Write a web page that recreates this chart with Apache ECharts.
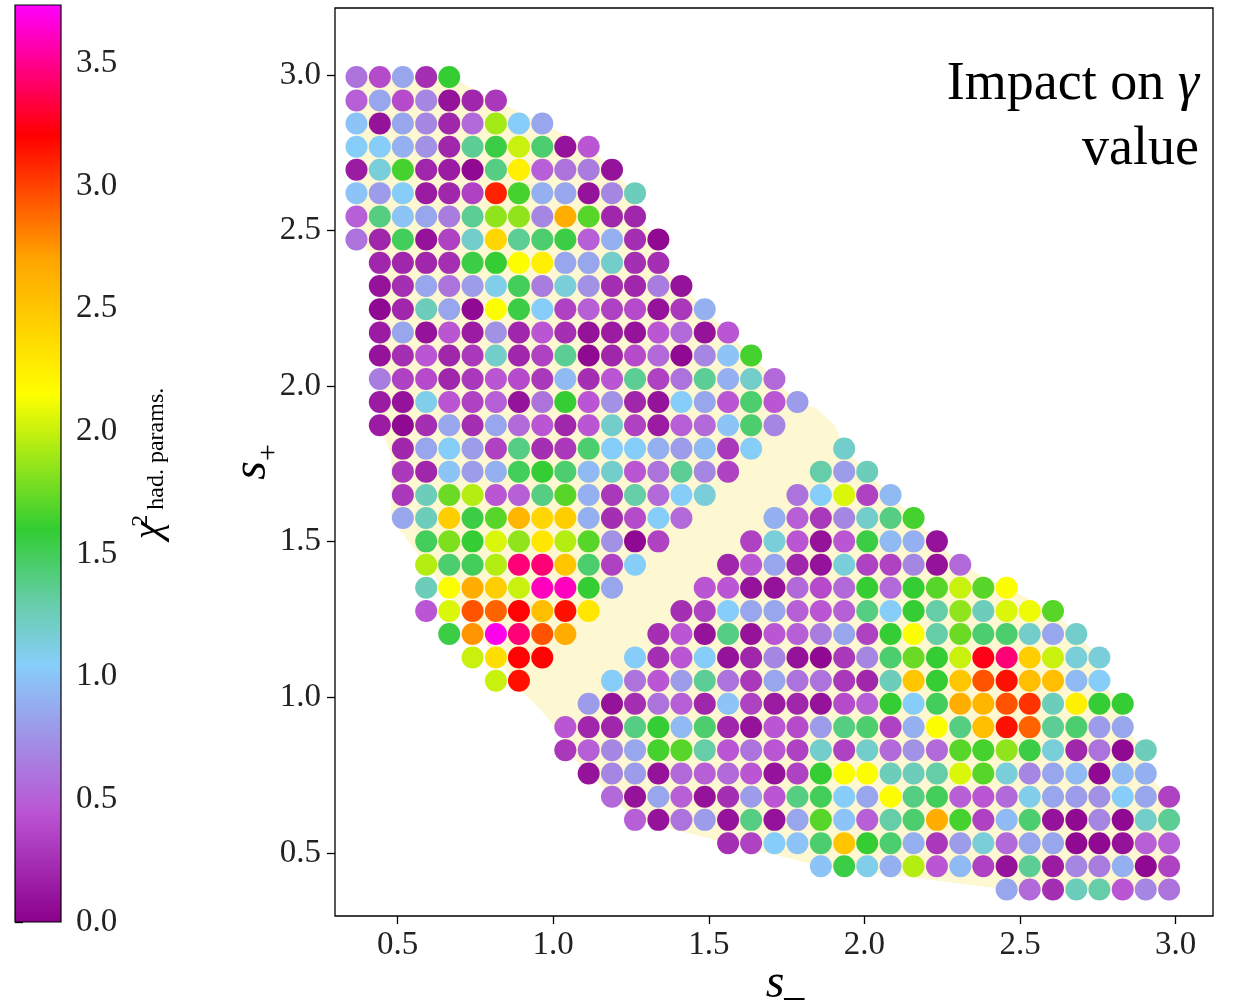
<!DOCTYPE html>
<html><head><meta charset="utf-8">
<script src="https://cdn.jsdelivr.net/npm/echarts@6/dist/echarts.min.js"></script>
<style>html,body{margin:0;padding:0;background:#fff}#c{width:1241px;height:1008px}</style>
</head><body><div id="c"></div>
<script>
// bin centres of the Dalitz variables
const sMinusBins = [0.368,0.443,0.517,0.592,0.666,0.741,0.816,0.890,0.965,1.039,1.114,1.189,1.263,1.338,1.412,1.487,1.562,1.636,1.711,1.785,1.860,1.935,2.009,2.084,2.158,2.233,2.308,2.382,2.457,2.531,2.606,2.681,2.755,2.830,2.904,2.979];
const sPlusBins  = [0.382,0.457,0.531,0.606,0.680,0.755,0.830,0.904,0.979,1.053,1.128,1.203,1.277,1.352,1.426,1.501,1.576,1.650,1.725,1.799,1.874,1.949,2.023,2.098,2.172,2.247,2.322,2.396,2.471,2.545,2.620,2.695,2.769,2.844,2.918,2.993];
const tickValues = [0.5, 1.0, 1.5, 2.0, 2.5, 3.0];
const cbarTicks = [0, 0.5, 1.0, 1.5, 2.0, 2.5, 3.0, 3.5];
const chi2Max = 3.737;

// upper-left lobe: rows from top (row 0 -> highest s+), first column index per row
const c1FirstRow = 0;
const c1Start = [0,0,0,0,0,0,0,0,1,1,1,1,1,1,1,1,2,2,2,2,3,3,3,3,4,5,6];
const c1Vals = [
 [0.6,0.4,0.85,0.25,1.6],
 [0.5,0.85,0.4,0.7,0.1,0.2,0.3],
 [1.0,0.1,0.85,0.7,0.2,0.55,1.9,1.05,0.85],
 [1.05,1.05,0.9,0.75,0.2,1.35,1.55,2.0,1.45,0.1,0.45],
 [0.15,1.15,1.65,0.2,0.15,0.05,1.4,2.25,0.5,0.6,0.65,0.1],
 [1.0,0.8,1.05,0.15,0.2,0.35,3.1,1.65,0.9,0.85,0.1,0.7,1.25],
 [0.5,1.4,1.0,0.85,0.65,1.35,1.85,1.85,0.7,2.65,1.7,0.2,0.2],
 [0.6,0.2,1.5,0.1,0.35,1.2,2.4,1.35,1.45,1.55,0.5,0.9,0.25,0.05],
 [0.2,0.2,0.2,0.25,1.55,1.6,2.15,2.25,0.85,0.85,1.2,0.25,0.25],
 [0.1,0.25,0.85,0.6,0.8,1.1,1.5,0.65,1.15,0.75,0.25,0.2,0.65,0.1],
 [0.05,0.2,1.25,0.85,0.05,2.15,1.55,1.05,0.35,0.5,0.35,0.4,0.1,0.3,0.9],
 [0.15,0.85,0.1,0.45,0.15,0.75,0.2,0.45,0.25,0.1,0.15,0.1,0.45,0.55,0.1,0.45],
 [0.1,0.25,0.45,0.2,0.3,1.2,0.2,0.35,1.35,0.05,0.2,0.4,0.55,0.05,0.7,1.0,1.65],
 [0.65,0.35,0.4,0.2,0.3,0.45,0.4,0.3,0.95,0.25,0.45,1.35,0.35,0.6,1.35,0.9,1.2,0.55],
 [0.15,0.1,1.1,0.45,0.35,0.5,0.1,0.6,1.6,0.45,0.75,0.2,0.1,1.05,0.85,0.45,1.45,0.45,0.8],
 [0.15,0.05,0.25,0.85,0.25,0.85,0.55,0.45,0.2,0.45,1.2,0.35,0.15,0.5,0.55,1.0,1.45,0.7],
 [0.2,0.85,1.05,0.8,0.35,1.4,0.25,0.3,1.45,1.05,1.05,0.9,0.8,0.95,0.3,1.05],
 [0.3,0.2,1.0,0.8,0.9,1.5,1.6,1.45,0.95,1.2,0.45,0.6,1.35,0.7,0.35],
 [0.3,1.25,1.75,1.95,0.45,0.5,1.4,1.7,0.9,0.3,1.3,0.55,1.05,1.15],
 [0.85,1.25,2.45,1.55,1.7,2.6,2.4,2.45,0.9,0.25,0.4,1.05,0.55],
 [1.5,1.8,1.6,2.05,1.85,2.3,1.95,1.7,0.75,0.05,0.35],
 [1.95,1.45,1.5,1.95,3.45,3.45,2.5,1.45,0.35,1.05],
 [1.25,2.15,2.65,2.45,2.0,3.6,3.6,1.6,0.85],
 [0.45,2.05,2.95,2.9,3.2,2.55,3.15,2.3],
 [1.55,2.75,3.7,3.45,2.95,2.65],
 [2.0,2.35,3.2,3.2],
 [2.0,3.15]
];

// lower-right lobe
const c2FirstRow = 16;
const c2Start = [21,20,19,18,17,16,15,14,13,12,11,10,9,9,10,11,12,16,20,28];
const c2Vals = [
 [1.2],
 [1.3,0.8,1.25],
 [0.6,1.05,2.05,0.35,0.95],
 [0.9,0.5,0.3,0.7,1.2,1.4,1.65],
 [0.35,1.15,0.45,0.1,0.45,1.55,0.95,0.9,0.1],
 [0.2,0.45,0.85,0.2,0.1,1.15,0.35,0.35,0.7,0.1,0.55],
 [0.45,0.45,0.1,0.1,0.55,0.4,0.55,1.6,0.55,1.6,1.7,2.0,1.7,2.15],
 [0.25,0.35,1.05,0.85,0.85,0.5,0.45,0.5,1.4,1.05,1.6,1.3,1.85,1.25,2.05,2.1,1.7],
 [0.25,0.45,0.1,1.4,0.1,0.45,0.5,0.65,0.85,0.35,1.6,2.15,1.3,1.75,1.45,1.45,1.2,0.85,1.2],
 [1.05,0.25,0.45,1.05,0.1,0.2,0.7,0.1,0.05,0.3,0.7,1.45,1.75,1.6,2.0,3.25,3.45,2.45,2.0,1.15,1.15],
 [1.05,0.6,0.45,0.8,1.35,0.6,0.3,0.85,0.6,0.6,0.3,0.2,1.25,2.5,1.6,2.5,2.95,3.15,2.55,2.55,0.95,1.05],
 [0.8,0.1,0.25,0.6,0.5,0.2,1.0,0.35,0.15,0.2,0.1,0.4,0.5,1.6,1.05,1.5,2.65,2.6,2.95,3.05,1.25,2.25,1.6,1.6],
 [0.45,0.2,0.2,1.4,1.6,0.95,1.45,0.2,0.1,0.45,0.4,0.8,1.4,1.45,0.35,0.9,2.15,1.4,2.55,3.15,2.9,1.35,1.45,0.8,0.85],
 [0.3,0.5,0.7,0.85,1.65,1.7,1.3,0.45,0.6,0.45,0.35,1.2,0.35,1.2,0.55,0.75,0.55,1.7,1.65,1.85,1.55,1.15,0.2,0.6,0.05,1.25],
 [0.1,0.7,0.8,0.1,0.55,0.5,0.55,0.45,0.1,0.35,1.6,2.15,2.15,1.25,1.25,1.3,2.05,1.7,1.15,0.7,0.85,0.95,0.05,0.95,0.9],
 [0.55,0.1,0.85,0.5,0.1,0.25,0.8,0.45,1.4,1.5,1.05,0.85,2.15,1.4,1.5,0.5,0.45,0.55,1.1,0.85,0.8,0.75,1.05,0.85,0.35],
 [0.5,0.1,0.6,0.8,0.1,1.4,0.1,0.85,1.7,1.0,0.5,1.3,1.45,2.65,1.65,0.35,0.95,1.45,0.1,0.05,0.7,0.05,1.2,1.35],
 [0.25,0.35,1.05,1.0,1.45,2.5,1.6,1.45,0.9,0.3,0.8,1.15,0.55,0.85,0.85,0.05,0.05,0.1,0.5,0.5],
 [1.0,1.55,1.1,0.9,1.95,0.45,0.95,0.35,0.1,1.35,0.15,0.7,0.65,0.9,0.05,0.35],
 [0.85,0.55,0.25,1.25,1.3,0.45,0.7,0.6]
];

// outline of the shaded allowed region (s-, s+)
const regionPts = [
 [0.368,2.993],[0.666,2.993],[0.816,2.918],[0.965,2.844],[1.114,2.769],[1.189,2.695],[1.263,2.620],[1.263,2.545],
 [1.338,2.471],[1.338,2.396],[1.412,2.322],[1.487,2.247],[1.562,2.172],[1.636,2.098],[1.711,2.023],[1.785,1.949],
 [1.845,1.929],[1.905,1.874],[1.935,1.799],[2.009,1.725],[2.084,1.650],[2.158,1.576],[2.233,1.501],[2.308,1.426],
 [2.457,1.352],[2.606,1.277],[2.681,1.203],[2.755,1.128],[2.755,1.053],[2.830,0.979],[2.830,0.904],[2.904,0.830],
 [2.904,0.755],[2.979,0.680],[2.979,0.382],[2.457,0.382],[1.860,0.457],[1.562,0.531],[1.263,0.606],[1.189,0.680],
 [1.114,0.755],[1.039,0.830],[1.020,0.884],[0.960,0.959],[0.900,1.019],[0.480,1.574],[0.480,1.774],[0.443,1.875],
 [0.443,2.396],[0.368,2.471]
];

// colour map (value -> colour)
const cmapStops = [[0,'#8b008b'],[0.45,'#ba55d3'],[1.05,'#87cefa'],[1.3,'#66cdaa'],[1.6,'#32cd32'],[2.15,'#ffff00'],[2.7,'#ffa500'],[3.2,'#ff0000'],[3.737,'#ff00ff']];

function hex2rgb(h){return [parseInt(h.slice(1,3),16),parseInt(h.slice(3,5),16),parseInt(h.slice(5,7),16)];}
function cmap(v){
  for(let i=0;i<cmapStops.length-1;i++){
    const [a,ca]=cmapStops[i],[b,cb]=cmapStops[i+1];
    if(v<=b){const t=(v-a)/(b-a);const A=hex2rgb(ca),B=hex2rgb(cb);
      return 'rgb('+A.map((x,k)=>Math.round(x+(B[k]-x)*t)).join(',')+')';}
  }
  return cmapStops[cmapStops.length-1][1];
}
const nSamp = 150;
const rampColors = [];
for(let i=0;i<=nSamp;i++) rampColors.push(cmap(chi2Max*i/nSamp));
const gradStops = cmapStops.map(([v,c])=>({offset:v/chi2Max,color:c}));

function buildPoints(firstRow, starts, rows){
  const out=[];
  rows.forEach((vals,i)=>{
    const y = sPlusBins[35-(firstRow+i)];
    vals.forEach((v,j)=>out.push([sMinusBins[starts[i]+j], y, v]));
  });
  return out;
}
const points = buildPoints(c1FirstRow,c1Start,c1Vals).concat(buildPoints(c2FirstRow,c2Start,c2Vals));

const serif = 'Liberation Serif';
const tickLabel = {fontFamily:serif,fontSize:33,color:'#222'};

const chart = echarts.init(document.getElementById('c'),null,{renderer:'canvas'});
chart.setOption({
  animation:false,
  backgroundColor:'#fff',
  title:{
    text:'Impact on {g|γ}\nvalue',
    left:1194, top:47,
    textAlign:'right',
    textStyle:{fontFamily:serif,fontSize:54,lineHeight:65,fontWeight:'normal',color:'#000',align:'right',
      rich:{g:{fontFamily:serif,fontSize:54,fontStyle:'italic',color:'#000',lineHeight:65}}}
  },
  grid:[
    {left:335,top:8,width:878,height:908,show:true,borderColor:'#000',borderWidth:1.3,backgroundColor:'transparent',outerBoundsMode:'none',containLabel:false},
    {left:15,top:5,width:46,height:917,show:false,outerBoundsMode:'none',containLabel:false}
  ],
  xAxis:[
    {gridIndex:0,type:'value',min:0.299,max:3.12,
     axisLine:{show:false},splitLine:{show:false},
     axisTick:{show:true,customValues:tickValues,length:8,lineStyle:{color:'#000',width:1.3}},
     axisLabel:{customValues:tickValues,formatter:v=>v.toFixed(1),margin:13,...tickLabel},
     name:'{s|s}{m|_}',nameLocation:'middle',nameGap:44,nameMoveOverlap:false,
     nameTextStyle:{padding:[0,0,0,22],rich:{s:{fontFamily:serif,fontStyle:'italic',fontSize:48,color:'#000'},m:{fontFamily:serif,fontSize:40,color:'#000'}}}},
    {gridIndex:1,type:'value',min:0,max:1,show:false}
  ],
  yAxis:[
    {gridIndex:0,type:'value',min:0.297,max:3.215,
     axisLine:{show:false},splitLine:{show:false},
     axisTick:{show:true,customValues:tickValues,length:8,lineStyle:{color:'#000',width:1.3}},
     axisLabel:{customValues:tickValues,formatter:v=>v.toFixed(1),margin:14,...tickLabel},
     name:'{s|s}{p|+}',nameLocation:'middle',nameGap:51,nameRotate:90,nameMoveOverlap:false,
     nameTextStyle:{rich:{s:{fontFamily:serif,fontStyle:'italic',fontSize:48,color:'#000',padding:[0,0,8,0],verticalAlign:'bottom'},
                          p:{fontFamily:serif,fontSize:30,color:'#000',verticalAlign:'bottom'}}}},
    {gridIndex:1,type:'value',min:0,max:chi2Max,position:'right',
     axisLine:{show:false},splitLine:{show:false},
     axisTick:{show:true,customValues:cbarTicks,length:8,lineStyle:{color:'#000',width:1.3}},
     axisLabel:{customValues:cbarTicks,formatter:v=>v.toFixed(1),margin:15,...tickLabel},
     name:'{c|χ}{sup|2}{sub|had. params.}',nameLocation:'middle',nameGap:68,nameRotate:90,
     nameTextStyle:{rich:{
       c:{fontFamily:serif,fontStyle:'italic',fontSize:40,color:'#000',verticalAlign:'middle'},
       sup:{fontFamily:serif,fontSize:24,color:'#000',verticalAlign:'top',width:2},
       sub:{fontFamily:serif,fontSize:24,color:'#000',verticalAlign:'bottom',padding:[0,0,0,10]}}}}
  ],
  visualMap:{type:'continuous',show:false,min:0,max:chi2Max,dimension:2,seriesIndex:1,inRange:{color:rampColors}},
  series:[
    {type:'custom',xAxisIndex:0,yAxisIndex:0,silent:true,z:1,
     data:[regionPts[0]],
     renderItem:(params,api)=>({type:'polygon',shape:{points:regionPts.map(p=>api.coord(p))},style:{fill:'#fdf7d2'}})},
    {type:'scatter',xAxisIndex:0,yAxisIndex:0,z:2,symbolSize:22,data:points,itemStyle:{opacity:1}},
    {type:'custom',xAxisIndex:1,yAxisIndex:1,silent:true,z:2,
     data:[[0,chi2Max]],
     renderItem:(params,api)=>{
       const p0=api.coord([0,0]),p1=api.coord([1,chi2Max]);
       return {type:'rect',shape:{x:p0[0],y:p1[1],width:p1[0]-p0[0],height:p0[1]-p1[1]},
         style:{fill:new echarts.graphic.LinearGradient(0,1,0,0,gradStops),stroke:'#000',lineWidth:1.2}};
     }}
  ]
});
</script></body></html>
